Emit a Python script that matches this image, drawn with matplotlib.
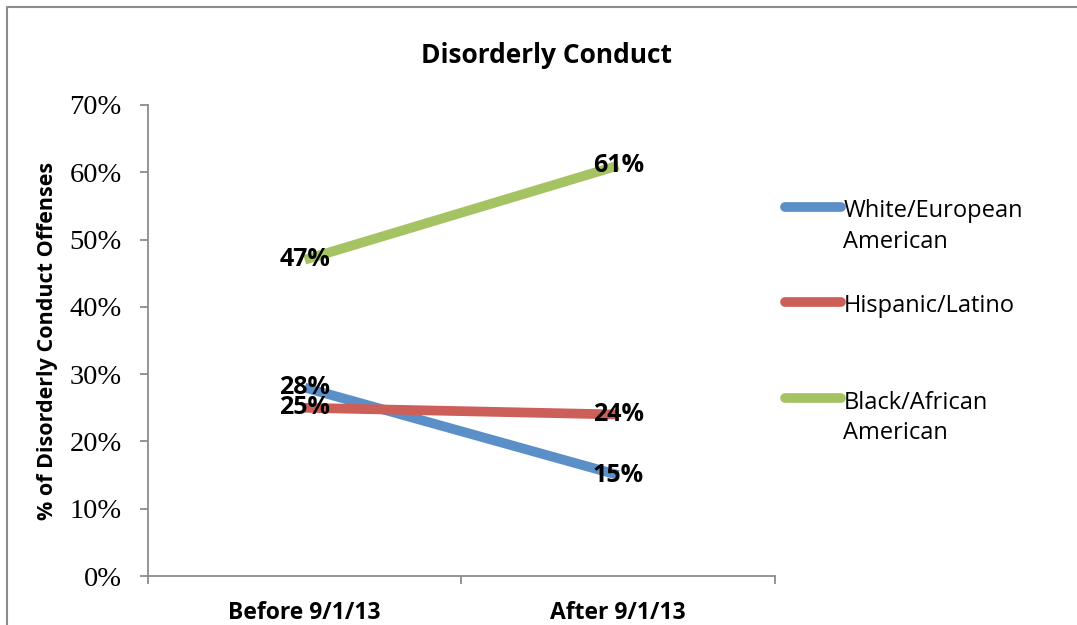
import matplotlib
matplotlib.use('Agg')
import matplotlib.pyplot as plt
from matplotlib.lines import Line2D

# data
categories = ['Before 9/1/13', 'After 9/1/13']
series = ['White/European\nAmerican', 'Hispanic/Latino', 'Black/African\nAmerican']
white = [28, 15]
hispanic = [25, 24]
black = [47, 61]
colors = ['#5a8fc8', '#cc5f58', '#a6c363']
yticks = [0, 10, 20, 30, 40, 50, 60, 70]

sans = ['Open Sans', 'DejaVu Sans']
serif = 'Liberation Serif'
grey = '#8c8c8c'

fig = plt.figure(figsize=(10.77, 6.25), dpi=100)
ax = fig.add_axes([0.1374, 0.0784, 0.5822, 0.7536])

x = list(range(len(categories)))
for vals, c in zip([white, hispanic, black], colors):
    ax.plot(x, vals, color=c, lw=7, solid_capstyle='butt')
    for xi, v in zip(x, vals):
        ax.text(xi, v, f'{v}%', ha='center', va='center', fontsize=18,
                fontweight='bold', family=sans, color='black')

ax.set_xlim(-0.5, 1.5)
ax.set_ylim(0, 70)
ax.set_yticks(yticks)
ax.set_yticklabels([f'{t}%' for t in yticks], family=serif, fontsize=20.5)
ax.set_xticks([-0.5, 0.5, 1.5])
ax.set_xticklabels([])
ax.set_xticks(x, minor=True)
ax.set_xticklabels(categories, minor=True, family=sans, fontsize=16.5, fontweight='bold')
ax.tick_params(axis='x', which='minor', length=0, pad=18)
ax.tick_params(axis='x', which='major', length=6, color=grey, width=1.3)
ax.tick_params(axis='y', length=6, color=grey, width=1.3, pad=13)
for s in ['top', 'right']:
    ax.spines[s].set_visible(False)
for s in ['left', 'bottom']:
    ax.spines[s].set_color(grey)
    ax.spines[s].set_linewidth(1.3)

ax.set_ylabel('% of Disorderly Conduct Offenses', family=sans, fontsize=15.5,
              fontweight='bold', labelpad=8)
fig.text(0.507, 0.911, 'Disorderly Conduct', ha='center', va='center',
         family=sans, fontsize=19, fontweight='bold')

# legend drawn by hand
leg_y = [0.669, 0.517, 0.363]
for lab, c, ly in zip(series, colors, leg_y):
    fig.add_artist(Line2D([0.729, 0.781], [ly, ly], color=c, lw=7,
                          solid_capstyle='round', transform=fig.transFigure))
    fig.text(0.783, ly + 0.012, lab, ha='left', va='top', family=sans,
             fontsize=17, linespacing=1.35)

# chart border
fig.add_artist(Line2D([0.0065, 0.0065, 1.0], [0.0, 0.9885, 0.9885], color=grey,
                      lw=1.5, transform=fig.transFigure))

fig.savefig('out.png', dpi=100)
